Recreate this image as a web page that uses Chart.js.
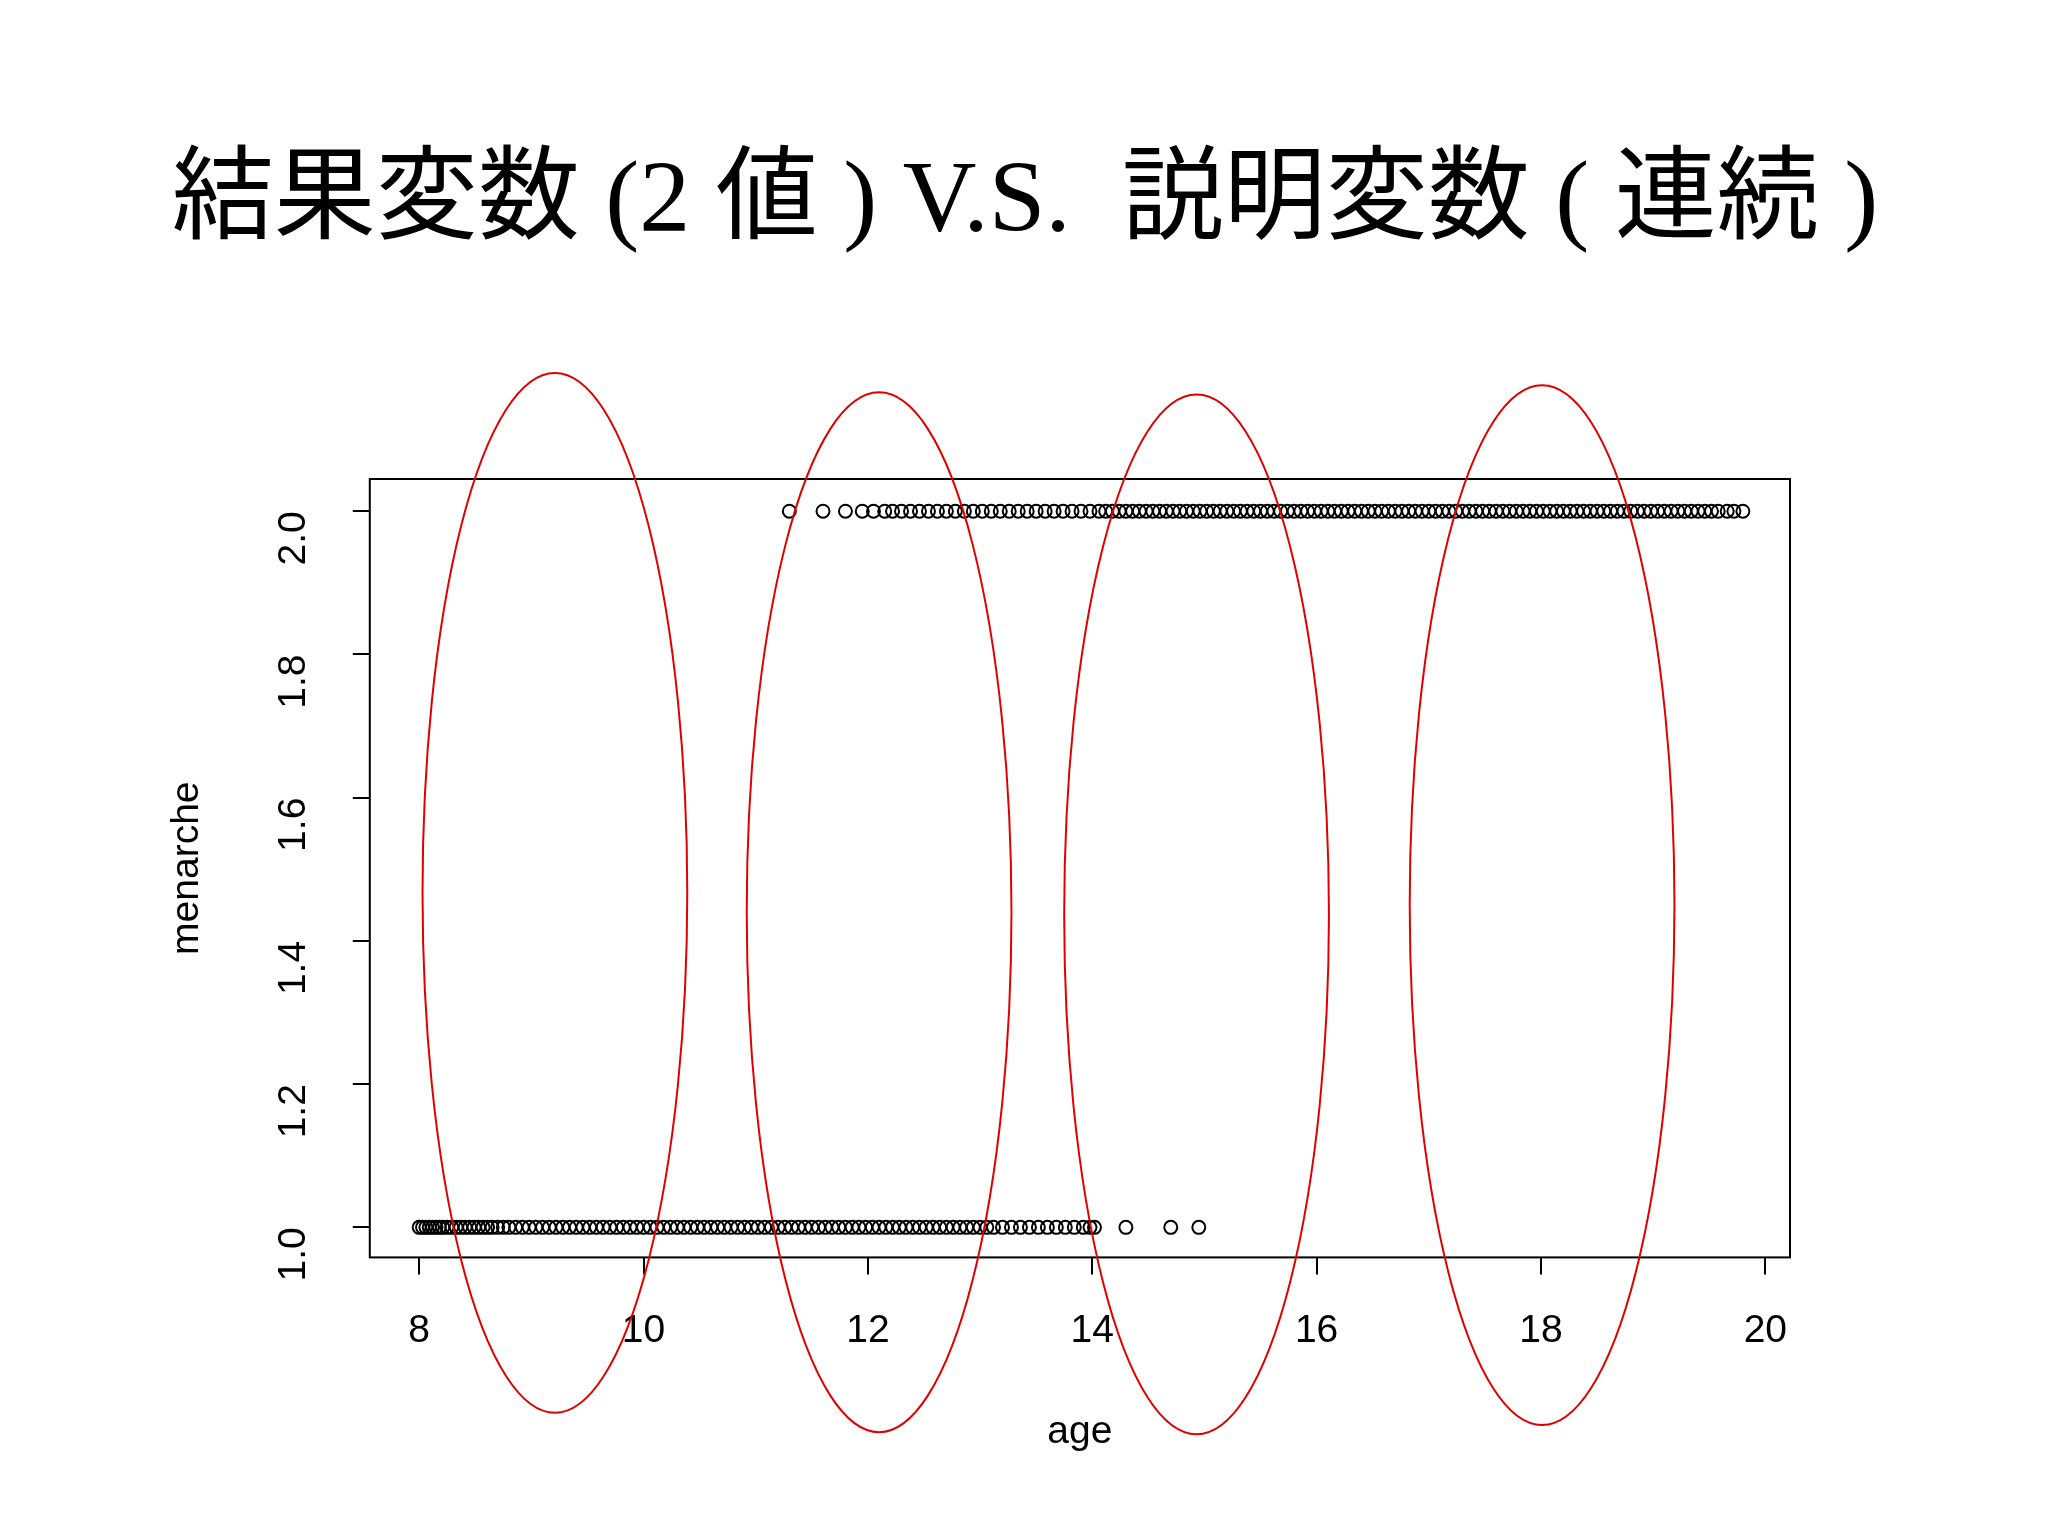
<!DOCTYPE html>
<html><head><meta charset="utf-8">
<script src="https://cdn.jsdelivr.net/npm/chart.js@4"></script>
<style>html,body{margin:0;padding:0;background:#fff}#wrap{width:2048px;height:1536px}</style>
</head><body><div id="wrap"><canvas id="c"></canvas></div>
<script>
const titleText = "結果変数 (2 値 ) V.S.  説明変数 ( 連続 )";
const yAxisTitle = "menarche";
const xTicks = [8, 10, 12, 14, 16, 18, 20];
const yTicks = [1.0, 1.2, 1.4, 1.6, 1.8, 2.0];
const agesMenarche1 = [8.00,8.03,8.06,8.09,8.12,8.15,8.18,8.21,8.25,8.29,8.33,8.37,8.41,8.45,8.49,8.53,8.57,8.61,8.65,8.70,8.75,8.80,8.86,8.92,8.98,9.04,9.10,9.16,9.22,9.28,9.34,9.40,9.46,9.52,9.58,9.64,9.70,9.76,9.82,9.88,9.94,10.00,10.06,10.12,10.18,10.24,10.30,10.36,10.42,10.48,10.54,10.60,10.66,10.72,10.78,10.84,10.90,10.96,11.02,11.08,11.14,11.20,11.26,11.32,11.38,11.44,11.50,11.56,11.62,11.68,11.74,11.80,11.86,11.92,11.98,12.04,12.10,12.16,12.22,12.28,12.34,12.40,12.46,12.52,12.58,12.64,12.70,12.76,12.82,12.88,12.94,13.00,13.06,13.12,13.20,13.28,13.36,13.44,13.52,13.60,13.68,13.76,13.84,13.92,13.98,14.02,14.30,14.70,14.95];
const agesMenarche2 = [11.30,11.60,11.80,11.95,12.05,12.15,12.22,12.30,12.38,12.46,12.54,12.62,12.70,12.78,12.86,12.94,13.02,13.10,13.18,13.26,13.34,13.42,13.50,13.58,13.66,13.74,13.82,13.90,13.98,14.06,14.12,14.18,14.24,14.30,14.36,14.42,14.48,14.54,14.60,14.66,14.72,14.78,14.84,14.90,14.96,15.02,15.08,15.14,15.20,15.26,15.32,15.38,15.44,15.50,15.56,15.62,15.68,15.74,15.80,15.86,15.92,15.98,16.04,16.10,16.16,16.22,16.28,16.34,16.40,16.46,16.52,16.58,16.64,16.70,16.76,16.82,16.88,16.94,17.00,17.06,17.12,17.18,17.24,17.30,17.36,17.42,17.48,17.54,17.60,17.66,17.72,17.78,17.84,17.90,17.96,18.02,18.08,18.14,18.20,18.26,18.32,18.38,18.44,18.50,18.56,18.62,18.68,18.74,18.80,18.86,18.92,18.98,19.04,19.10,19.16,19.22,19.28,19.34,19.40,19.46,19.52,19.58,19.66,19.72,19.80];
const ellipseCenters = [9.21, 12.10, 14.93, 18.01];
const ellipseCentersY = [1.467, 1.44, 1.437, 1.45];

const pts = agesMenarche1.map(a=>({x:a,y:1})).concat(agesMenarche2.map(a=>({x:a,y:2})));

const overlay = {
  id:'overlay',
  afterDraw(chart){
    const ctx=chart.ctx, a=chart.chartArea, xs=chart.scales.x, ys=chart.scales.y;
    ctx.save();
    ctx.fillStyle='#000'; ctx.textAlign='center'; ctx.textBaseline='middle';
    ctx.font="102px 'Liberation Serif','Noto Sans CJK JP'";
    ctx.fillText(titleText, 1025, 204);
    ctx.save();
    ctx.font="39px 'Liberation Sans'";
    ctx.translate(187,(a.top+a.bottom)/2); ctx.rotate(-Math.PI/2);
    ctx.fillText(yAxisTitle,0,0);
    ctx.restore();
    ctx.strokeStyle='#000'; ctx.lineWidth=2;
    ctx.strokeRect(a.left,a.top,a.right-a.left,a.bottom-a.top);
    ctx.strokeStyle='#e00000'; ctx.lineWidth=2;
    ellipseCenters.forEach((cx,i)=>{
      const px=xs.getPixelForValue(cx), py=ys.getPixelForValue(ellipseCentersY[i]);
      const rx=xs.getPixelForValue(cx+1.18)-px, ry=ys.getPixelForValue(ellipseCentersY[i])-ys.getPixelForValue(ellipseCentersY[i]+0.726);
      ctx.beginPath(); ctx.ellipse(px,py,rx,ry,0,0,Math.PI*2); ctx.stroke();
    });
    ctx.restore();
  }
};

const chart = new Chart(document.getElementById('c'),{
  type:'scatter',
  data:{datasets:[{data:pts,pointRadius:6.5,pointBorderWidth:2,pointBorderColor:'#000',pointBackgroundColor:'rgba(0,0,0,0)'}]},
  options:{
    responsive:true,maintainAspectRatio:false,animation:false,
    layout:{padding:{left:188,right:258,top:479,bottom:76}},
    plugins:{legend:{display:false},tooltip:{enabled:false},title:{display:false}},
    scales:{
      x:{type:'linear',min:7.56,max:20.22,afterBuildTicks(s){s.ticks=xTicks.map(v=>({value:v}));},
        grid:{drawOnChartArea:false,drawTicks:true,tickLength:17,color:'#000',lineWidth:2},border:{display:false},
        ticks:{color:'#000',font:{family:'Liberation Sans',size:39},padding:33,maxRotation:0},
        title:{display:true,text:'age',color:'#000',font:{family:'Liberation Sans',size:39},padding:{top:22}}},
      y:{type:'linear',min:0.958,max:2.045,afterBuildTicks(s){s.ticks=yTicks.map(v=>({value:v}));},
        grid:{drawOnChartArea:false,drawTicks:true,tickLength:17,color:'#000',lineWidth:2},border:{display:false},
        ticks:{color:'#000',font:{family:'Liberation Sans',size:39},padding:59,minRotation:90,maxRotation:90,callback:v=>v.toFixed(1)},
        title:{display:false}}
    }
  },
  plugins:[overlay]
});
</script></body></html>
